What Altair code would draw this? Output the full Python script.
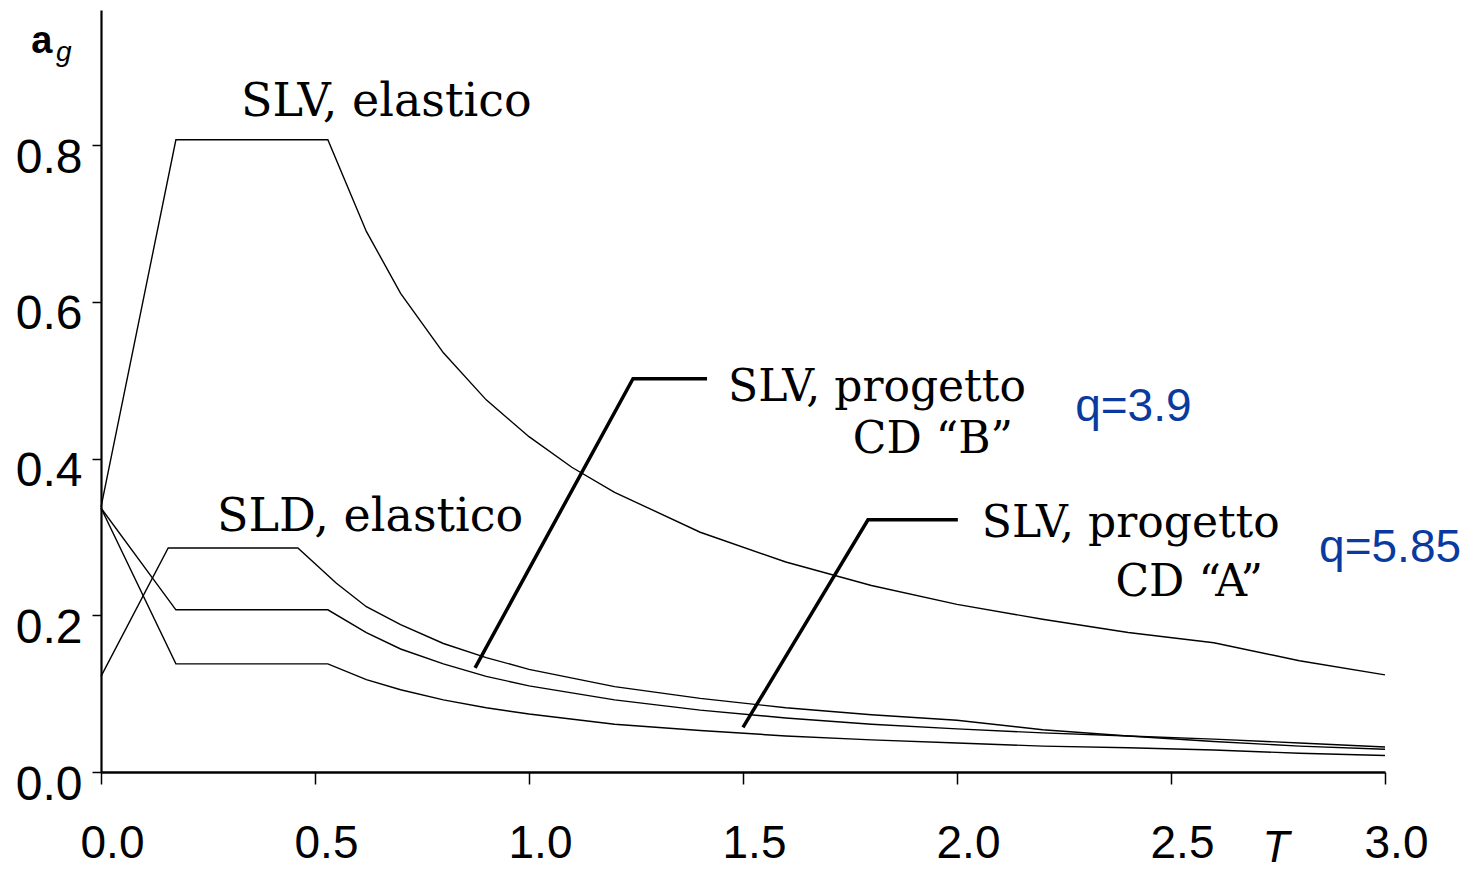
import altair as alt
import pandas as pd

# --- curve data ---
T_slv_el = [0.0, 0.175, 0.53, 0.62, 0.70, 0.80, 0.90, 1.00, 1.10, 1.20, 1.40, 1.60, 1.80, 2.00, 2.20, 2.40, 2.60, 2.80, 3.00]
ag_slv_el = [0.338, 0.807, 0.807, 0.690, 0.611, 0.535, 0.475, 0.428, 0.389, 0.357, 0.306, 0.268, 0.238, 0.214, 0.195, 0.178, 0.165, 0.142, 0.124]

T_sld_el = [0.0, 0.157, 0.46, 0.55, 0.62, 0.70, 0.80, 0.90, 1.00, 1.20, 1.40, 1.60, 1.80, 2.00, 2.20, 2.40, 2.60, 2.80, 3.00]
ag_sld_el = [0.122, 0.286, 0.286, 0.241, 0.211, 0.188, 0.164, 0.146, 0.131, 0.109, 0.094, 0.082, 0.073, 0.066, 0.054, 0.046, 0.039, 0.033, 0.029]

T_prog = [0.0, 0.175, 0.53, 0.62, 0.70, 0.80, 0.90, 1.00, 1.20, 1.40, 1.60, 1.80, 2.00, 2.20, 2.40, 2.60, 2.80, 3.00]
ag_prog_b = [0.337, 0.207, 0.207, 0.178, 0.157, 0.138, 0.122, 0.110, 0.092, 0.079, 0.069, 0.061, 0.055, 0.050, 0.046, 0.042, 0.037, 0.032]
ag_prog_a = [0.337, 0.138, 0.138, 0.118, 0.105, 0.092, 0.082, 0.074, 0.061, 0.053, 0.046, 0.041, 0.037, 0.033, 0.031, 0.028, 0.024, 0.021]

# leader lines of the annotations
leader_b_T = [0.874, 1.243, 1.416]
leader_b_ag = [0.133, 0.502, 0.502]
leader_a_T = [1.500, 1.792, 2.002]
leader_a_ag = [0.057, 0.322, 0.322]

# axis ticks
x_ticks = [0.0, 0.5, 1.0, 1.5, 2.0, 2.5, 3.0]
y_ticks = [0.0, 0.2, 0.4, 0.6, 0.8]

# annotation texts
elastic_text = ["SLV, elastico", "SLD, elastico"]
elastic_T = [0.327, 0.271]
elastic_ag = [0.837, 0.307]

prog_left_text = ["SLV, progetto", "SLV, progetto"]
prog_left_T = [1.465, 2.058]
prog_left_ag = [0.473, 0.300]

prog_right_text = ["CD \u201cB\u201d", "CD \u201cA\u201d"]
prog_right_T = [2.131, 2.715]
prog_right_ag = [0.407, 0.225]

q_text = ["q=3.9", "q=5.85"]
q_T = [2.276, 2.846]
q_ag = [0.4485, 0.268]

# ---- build tables ----
rows = []
for name, ts, vs in [("SLV elastico", T_slv_el, ag_slv_el),
                     ("SLD elastico", T_sld_el, ag_sld_el),
                     ("SLV progetto B", T_prog, ag_prog_b),
                     ("SLV progetto A", T_prog, ag_prog_a)]:
    for t, v in zip(ts, vs):
        rows.append({"series": name, "T": t, "ag": v})
curves = pd.DataFrame(rows)

lrows = []
for name, ts, vs in [("B", leader_b_T, leader_b_ag), ("A", leader_a_T, leader_a_ag)]:
    for t, v in zip(ts, vs):
        lrows.append({"leader": name, "T": t, "ag": v})
leaders = pd.DataFrame(lrows)

XDOM = [0, 3]
YDOM = [0, 0.9726]

def xenc():
    return alt.X("T:Q", scale=alt.Scale(domain=XDOM, nice=False, zero=False),
                 axis=alt.Axis(values=x_ticks, format=".1f", title=None))

def yenc():
    return alt.Y("ag:Q", scale=alt.Scale(domain=YDOM, nice=False, zero=False),
                 axis=alt.Axis(values=y_ticks, format=".1f", title=None))

curve_layer = alt.Chart(curves).mark_line(color="black", strokeWidth=1.4).encode(
    x=xenc(), y=yenc(), detail="series:N", order="T:Q")

leader_layer = alt.Chart(leaders).mark_line(color="black", strokeWidth=3.5).encode(
    x=xenc(), y=yenc(), detail="leader:N", order="T:Q")

el = pd.DataFrame({"T": elastic_T, "ag": elastic_ag, "txt": elastic_text})
pl = pd.DataFrame({"T": prog_left_T, "ag": prog_left_ag, "txt": prog_left_text})
pr = pd.DataFrame({"T": prog_right_T, "ag": prog_right_ag, "txt": prog_right_text})
qd = pd.DataFrame({"T": q_T, "ag": q_ag, "txt": q_text})

el_layer = alt.Chart(el).mark_text(font="DejaVu Serif", fontSize=46, align="left",
                                   baseline="alphabetic", color="black").encode(
    x=xenc(), y=yenc(), text="txt:N")
pl_layer = alt.Chart(pl).mark_text(font="DejaVu Serif", fontSize=44, align="left",
                                   baseline="alphabetic", color="black").encode(
    x=xenc(), y=yenc(), text="txt:N")
pr_layer = alt.Chart(pr).mark_text(font="DejaVu Serif", fontSize=44, align="right",
                                   baseline="alphabetic", color="black").encode(
    x=xenc(), y=yenc(), text="txt:N")
q_layer = alt.Chart(qd).mark_text(font="Liberation Sans", fontSize=46, align="left",
                                  baseline="alphabetic", color="#0a3a9e").encode(
    x=xenc(), y=yenc(), text="txt:N")

# axis titles as text
a_df = pd.DataFrame({"T": [-0.138], "ag": [0.918], "txt": ["a"]})
g_df = pd.DataFrame({"T": [-0.087], "ag": [0.907], "txt": ["g"]})
t_df = pd.DataFrame({"T": [2.745], "ag": [-0.1145], "txt": ["T"]})

a_layer = alt.Chart(a_df).mark_text(font="Liberation Sans", fontSize=38, fontWeight="bold",
                                    align="center", baseline="alphabetic", color="black").encode(
    x=xenc(), y=yenc(), text="txt:N")
g_layer = alt.Chart(g_df).mark_text(font="Liberation Sans", fontSize=28, fontStyle="italic",
                                    align="center", baseline="alphabetic", color="black").encode(
    x=xenc(), y=yenc(), text="txt:N")
t_layer = alt.Chart(t_df).mark_text(font="Liberation Sans", fontSize=44, fontStyle="italic",
                                    align="center", baseline="alphabetic", color="black").encode(
    x=xenc(), y=yenc(), text="txt:N")

chart = alt.layer(curve_layer, leader_layer, el_layer, pl_layer, pr_layer, q_layer,
                  a_layer, g_layer, t_layer).properties(
    width=1284, height=762,
    autosize=alt.AutoSizeParams(type="none"),
    padding={"left": 93, "top": 2, "right": 78, "bottom": 98},
    background="white",
).configure_view(stroke=None).configure_axis(
    grid=False, domainColor="black", tickColor="black", labelColor="black",
    labelFont="Liberation Sans", labelFlush=False, labelOverlap=False,
).configure_axisX(
    domainWidth=2.5, tickWidth=1.5, tickSize=12, labelFontSize=46,
    labelPadding=37, labelOffset=11,
).configure_axisY(
    domainWidth=2.2, tickWidth=1.5, tickSize=9, labelFontSize=48,
    labelPadding=10, labelOffset=13,
)

chart.save("out.html", embed_options={"renderer": "svg", "actions": False})
